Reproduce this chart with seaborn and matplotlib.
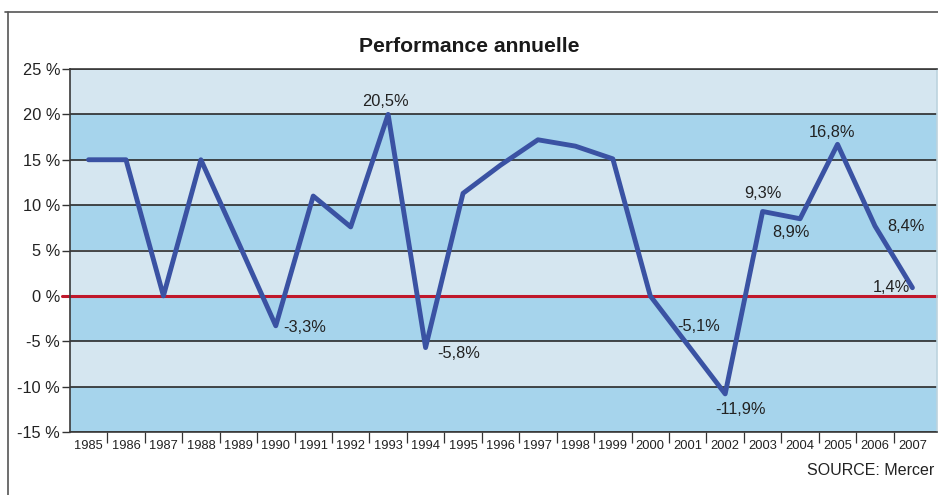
import matplotlib
matplotlib.use("Agg")
import matplotlib.pyplot as plt
import seaborn as sns
import pandas as pd
from matplotlib.lines import Line2D

# ---- data ----
years = ["1985", "1986", "1987", "1988", "1989", "1990", "1991", "1992",
         "1993", "1994", "1995", "1996", "1997", "1998", "1999", "2000",
         "2001", "2002", "2003", "2004", "2005", "2006", "2007"]
values = [15.0, 15.0, 0.0, 15.0, 5.9, -3.3, 11.0, 7.6, 20.0, -5.7, 11.3,
          14.4, 17.2, 16.5, 15.1, 0.0, -5.4, -10.8, 9.3, 8.5, 16.7, 7.7, 0.9]
label_years = ["1990", "1993", "1994", "2001", "2002", "2003", "2004",
               "2005", "2006", "2007"]
label_texts = ["-3,3%", "20,5%", "-5,8%", "-5,1%", "-11,9%", "9,3%",
               "8,9%", "16,8%", "8,4%", "1,4%"]
y_ticks = [-15, -10, -5, 0, 5, 10, 15, 20, 25]
title = "Performance annuelle"
source = "SOURCE: Mercer"

# ---- style ----
sns.set_style("white")
FONT = ["Liberation Sans", "DejaVu Sans"]
NARROW = ["Liberation Sans Narrow", "Liberation Sans", "DejaVu Sans"]
plt.rcParams["font.family"] = FONT

W, H = 938, 495
fig = plt.figure(figsize=(W / 100, H / 100), dpi=100)
fig.patch.set_facecolor("white")

left_px, right_px, top_px, bot_px = 69.8, 937, 69, 432
ax = fig.add_axes([left_px / W, 1 - bot_px / H, (right_px - left_px) / W,
                   (bot_px - top_px) / H])

df = pd.DataFrame({"year": years, "value": values})

light = "#d5e6f0"
blue = "#a6d4ec"
for i in range(len(y_ticks) - 1):
    lo, hi = y_ticks[i], y_ticks[i + 1]
    ax.axhspan(lo, hi, color=blue if i % 2 == 0 else light, zorder=0, lw=0)
for t in y_ticks:
    ax.axhline(t, color="#2a2a2a", lw=1.2, zorder=1)
ax.axhline(0, xmin=-8 / (right_px - left_px), xmax=1, color="#c0182b",
           lw=2.2, zorder=2, clip_on=False)

sns.lineplot(data=df, x="year", y="value", sort=False, color="#3a52a3",
             linewidth=3.5, ax=ax, zorder=3)

n = len(years)
ax.set_xlim(-0.5, -0.5 + (right_px - left_px) / 37.45)
ax.set_ylim(y_ticks[0], y_ticks[-1])

ax.set_yticks(y_ticks)
ax.set_yticklabels([f"{t} %" for t in y_ticks], fontsize=11.8,
                   color="#222222", family=FONT)
ax.tick_params(axis="y", length=6, width=1.0, color="#333333", pad=1,
               left=True)

ax.set_xticks(range(n))
ax.set_xticklabels(years, fontsize=9.3, color="#222222", family=NARROW)
ax.set_xticks([i + 0.5 for i in range(n - 1)], minor=True)
ax.tick_params(axis="x", which="major", length=0, pad=6)
ax.tick_params(axis="x", which="minor", length=8, width=0.9,
               color="#333333", bottom=True)

ax.set_xlabel("")
ax.set_ylabel("")
for side, sp in ax.spines.items():
    sp.set_visible(True)
    sp.set_color("#3a3a3a")
    sp.set_linewidth(1.2)
ax.spines["right"].set_color("#bcd3de")

# annotations: (dx, dy) offsets in pixels, ha
offsets = {
    "1990": (7, -2, "left"),
    "1993": (-3, 13, "center"),
    "1994": (11.5, -6, "left"),
    "2001": (11, 18, "center"),
    "2002": (15, -16, "center"),
    "2003": (0, 17.6, "center"),
    "2004": (-9, -14, "center"),
    "2005": (-5.5, 11.5, "center"),
    "2006": (31, -1, "center"),
    "2007": (-21, 0, "center"),
}
for yr, txt in zip(label_years, label_texts):
    i = years.index(yr)
    dx, dy, ha = offsets[yr]
    ax.annotate(txt, (i, values[i]), xytext=(dx, dy),
                textcoords="offset pixels", ha=ha, va="center",
                fontsize=11.8, color="#222222", zorder=5)

# outer frame
fig.add_artist(Line2D([8 / W, 8 / W], [0, 1 - 12 / H], transform=fig.transFigure,
                      color="#555555", lw=1.2))
fig.add_artist(Line2D([5 / W, 1], [1 - 12 / H, 1 - 12 / H],
                      transform=fig.transFigure, color="#555555", lw=1.2))

fig.text(469 / W, 1 - 52 / H, title, ha="center", va="baseline",
         fontsize=15.2, fontweight="bold", color="#1a1a1a")
fig.text(934 / W, 1 - 475 / H, source, ha="right", va="baseline",
         fontsize=11.5, color="#222222")

fig.savefig("out.png", dpi=100)
